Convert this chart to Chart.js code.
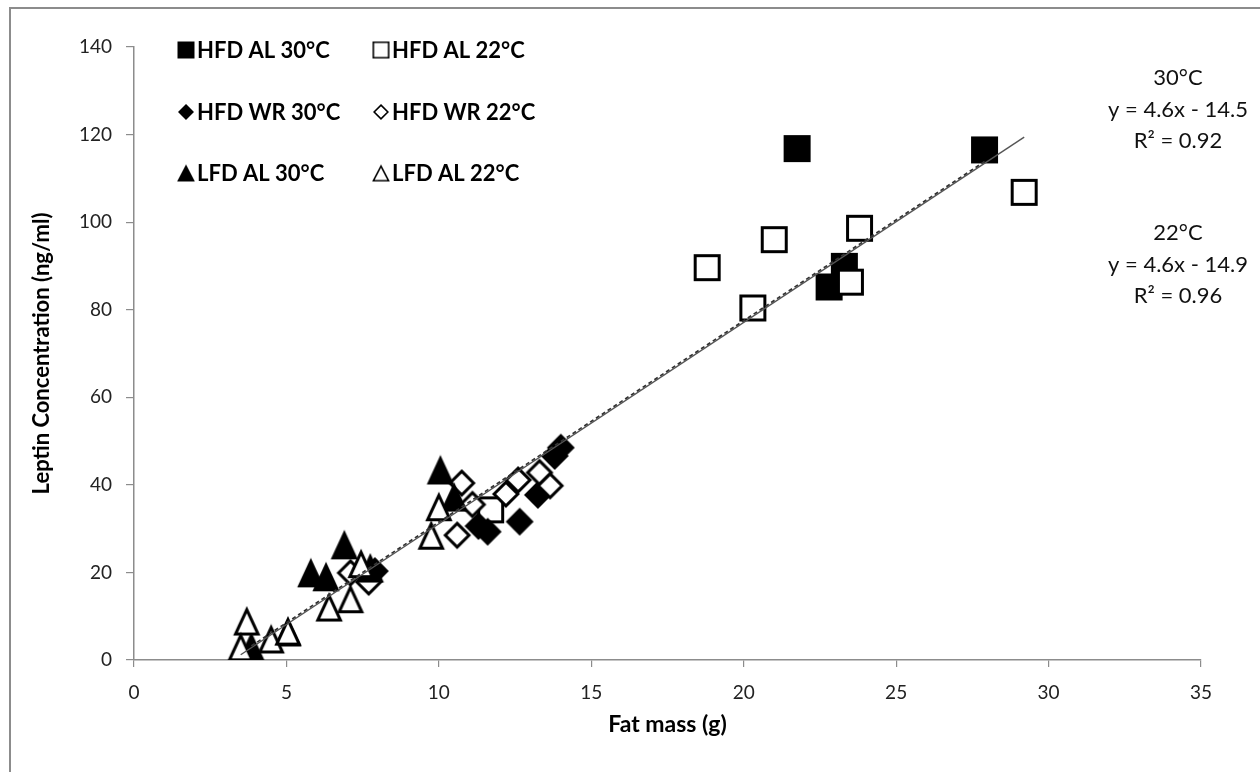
<!DOCTYPE html>
<html>
<head>
<meta charset="utf-8">
<script src="https://cdn.jsdelivr.net/npm/chart.js@4.4.0/dist/chart.umd.min.js"></script>
<style>
  html, body { margin: 0; padding: 0; background: #fff; }
  #wrap { width: 1260px; height: 772px; position: relative; }
</style>
</head>
<body>
<div id="wrap"><canvas id="c" width="1260" height="772"></canvas></div>
<script>
// Leptin vs fat mass, six diet/temperature groups: [fat mass g, leptin ng/ml]
const seriesLabels = ['HFD AL 30°C', 'HFD AL 22°C', 'HFD WR 30°C', 'HFD WR 22°C', 'LFD AL 30°C', 'LFD AL 22°C'];

const hfdAl30 = [[21.75, 116.8], [27.9, 116.5], [23.3, 89.9], [22.8, 85.2]];
const hfdAl22 = [[29.2, 106.8], [23.8, 98.6], [23.5, 86.3], [18.8, 89.6], [21.0, 96.0], [20.3, 80.4], [11.7, 34.3]];
const hfdWr30 = [[14.0, 48.5], [13.8, 46.6], [13.25, 37.7], [12.65, 31.6], [11.6, 29.3], [11.3, 30.6], [7.9, 20.3]];
const hfdWr22 = [[13.3, 42.8], [13.65, 39.8], [12.6, 41.1], [12.2, 37.9], [10.75, 40.4], [10.6, 28.5], [11.1, 35.5], [7.1, 19.9], [7.7, 17.8]];
const lfdAl30 = [[10.05, 43.4], [10.5, 37.2], [6.9, 26.3], [5.8, 19.9], [6.3, 19.0], [7.75, 21.0], [3.85, 3.0], [5.05, 6.4]];
const lfdAl22 = [[10.0, 35.0], [9.75, 28.5], [7.45, 22.0], [6.4, 12.1], [7.1, 14.0], [3.7, 8.9], [3.5, 3.0], [4.5, 4.8], [5.05, 6.6]];

// Linear fits per housing temperature
const fitTemps = ['30°C', '22°C'];
const fitSlopes = [4.6, 4.6];
const fitIntercepts = [-14.5, -14.9];
const fitR2 = [0.92, 0.96];

// Axis ticks
const xTicks = [0, 5, 10, 15, 20, 25, 30, 35];
const yTicks = [0, 20, 40, 60, 80, 100, 120, 140];

const seriesData = [hfdAl30, hfdAl22, hfdWr30, hfdWr22, lfdAl30, lfdAl22];
const seriesShape = ['square', 'square', 'diamond', 'diamond', 'triangle', 'triangle'];
const seriesFilled = [true, false, true, false, true, false];
const fitGroups = [[0, 2, 4], [1, 3, 5]];

function makeMarker(shape, filled, w, h, lw) {
  const c = document.createElement('canvas');
  const pad = 1;
  c.width = Math.ceil(w + 2 * pad);
  c.height = Math.ceil(h + 2 * pad);
  const g = c.getContext('2d');
  g.translate(pad, pad);
  const i = lw / 2;
  g.beginPath();
  if (shape === 'square') {
    g.rect(i, i, w - lw, h - lw);
  } else if (shape === 'diamond') {
    const d = i * 1.42;
    g.moveTo(w / 2, d);
    g.lineTo(w - d, h / 2);
    g.lineTo(w / 2, h - d);
    g.lineTo(d, h / 2);
    g.closePath();
  } else {
    g.moveTo(w / 2, i * 2.1);
    g.lineTo(w - i * 1.8, h - i);
    g.lineTo(i * 1.8, h - i);
    g.closePath();
  }
  g.fillStyle = filled ? '#000' : '#fff';
  g.fill();
  g.lineJoin = 'miter';
  g.lineWidth = lw;
  g.strokeStyle = '#000';
  g.stroke();
  return c;
}

const markerSize = { square: [27, 27], diamond: [28, 28], triangle: [28, 29] };
const legendSize = { square: [17, 17], diamond: [16, 16], triangle: [18, 17] };

const datasets = seriesData.map((pts, k) => {
  const [w, h] = markerSize[seriesShape[k]];
  return {
    type: 'scatter',
    label: seriesLabels[k],
    data: pts.map(([x, y]) => ({ x, y })),
    pointStyle: makeMarker(seriesShape[k], seriesFilled[k], w, h, 3),
    pointRadius: 14,
    order: seriesData.length - k,
    legendMarker: makeMarker(seriesShape[k], seriesFilled[k], legendSize[seriesShape[k]][0], legendSize[seriesShape[k]][1], 1.6)
  };
});

// trend lines spanning each temperature group's fat-mass range
fitGroups.forEach((grp, t) => {
  const xs = grp.flatMap(k => seriesData[k].map(p => p[0]));
  const x0 = Math.min(...xs), x1 = Math.max(...xs);
  datasets.push({
    type: 'line',
    label: 'fit ' + fitTemps[t],
    data: [x0, x1].map(x => ({ x, y: fitSlopes[t] * x + fitIntercepts[t] })),
    borderColor: t === 0 ? '#333' : '#555',
    borderWidth: t === 0 ? 1.7 : 1.4,
    borderDash: t === 0 ? [4, 3] : [],
    pointRadius: 0,
    fill: false,
    order: 0
  });
});

const framePlugin = {
  id: 'frame',
  beforeDraw(chart) {
    const g = chart.ctx;
    g.save();
    g.fillStyle = '#fff';
    g.fillRect(0, 0, chart.width, chart.height);
    g.strokeStyle = '#8c8c8c';
    g.lineWidth = 2;
    g.strokeRect(10, 8, 1300, 820);
    g.restore();
  }
};

const legendPlugin = {
  id: 'cornerLegend',
  afterDraw(chart) {
    const g = chart.ctx;
    const colX = [186, 381];
    const rowY = [50, 112, 173];
    g.save();
    g.font = 'bold 22px Lato';
    g.textBaseline = 'middle';
    g.textAlign = 'left';
    g.fillStyle = '#000';
    seriesLabels.forEach((lab, k) => {
      const cx = colX[k % 2], cy = rowY[Math.floor(k / 2)];
      const m = chart.data.datasets[k].legendMarker;
      g.drawImage(m, cx - m.width / 2, cy - m.height / 2);
      g.fillText(lab, cx + 11, cy + 1);
    });
    g.restore();
  }
};

const fitTextPlugin = {
  id: 'fitText',
  afterDraw(chart) {
    const g = chart.ctx;
    const blockY = [78, 233];
    g.save();
    g.font = '22px Lato';
    g.textAlign = 'center';
    g.textBaseline = 'middle';
    g.fillStyle = '#111';
    fitTemps.forEach((temp, t) => {
      const sign = fitIntercepts[t] < 0 ? ' - ' : ' + ';
      const lines = [temp,
        'y = ' + fitSlopes[t] + 'x' + sign + Math.abs(fitIntercepts[t]),
        'R² = ' + fitR2[t].toFixed(2)];
      lines.forEach((s, j) => g.fillText(s, 1178, blockY[t] + j * 31.5));
    });
    g.restore();
  }
};

const tickFont = { family: 'Lato', size: 19 };

new Chart(document.getElementById('c'), {
  type: 'scatter',
  data: { datasets },
  plugins: [framePlugin, legendPlugin, fitTextPlugin],
  options: {
    responsive: false,
    animation: false,
    events: [],
    layout: { padding: { top: 47, right: 59, bottom: 0, left: 0 } },
    plugins: { legend: { display: false }, tooltip: { enabled: false } },
    scales: {
      x: {
        type: 'linear', min: xTicks[0], max: xTicks[xTicks.length - 1],
        afterBuildTicks(s) { s.ticks = xTicks.map(v => ({ value: v })); },
        afterFit(s) { s.height = 112; },
        ticks: { font: tickFont, color: '#222', padding: 14 },
        grid: { drawOnChartArea: false, tickLength: 7, color: '#8c8c8c', lineWidth: 1.2 },
        border: { color: '#8c8c8c', width: 1.5 },
        title: { display: true, text: 'Fat mass (g)', font: { family: 'Lato', size: 23, weight: 'bold' }, color: '#000', padding: { top: 0, bottom: 34 } }
      },
      y: {
        type: 'linear', min: yTicks[0], max: yTicks[yTicks.length - 1],
        afterBuildTicks(s) { s.ticks = yTicks.map(v => ({ value: v })); },
        afterFit(s) { s.width = 134; },
        ticks: { font: tickFont, color: '#222', padding: 14 },
        grid: { drawOnChartArea: false, tickLength: 8, color: '#8c8c8c', lineWidth: 1.2 },
        border: { color: '#8c8c8c', width: 1.5 },
        title: { display: true, text: 'Leptin Concentration (ng/ml)', font: { family: 'Lato', size: 22, weight: 'bold' }, color: '#000', padding: { top: 29, bottom: 0 } }
      }
    }
  }
});
</script>
</body>
</html>
